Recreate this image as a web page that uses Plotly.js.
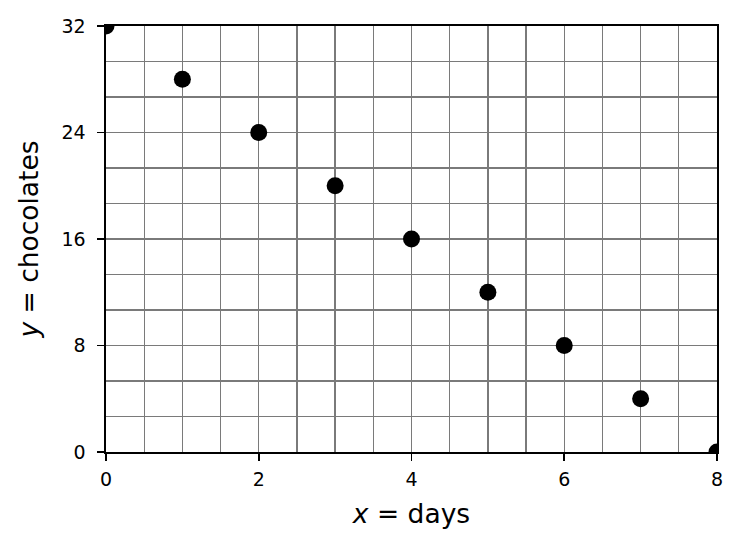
<!DOCTYPE html>
<html><head><meta charset="utf-8">
<script src="https://cdn.plot.ly/plotly-3.0.1.min.js"></script>
<style>html,body{margin:0;padding:0;background:#fff}</style>
</head><body>
<div id="chart" style="width:743px;height:550px"></div>
<script>
const days = [0, 1, 2, 3, 4, 5, 6, 7, 8];
const chocolates = [32, 28, 24, 20, 16, 12, 8, 4, 0];
const xTicks = [0, 2, 4, 6, 8];
const yTicks = [0, 8, 16, 24, 32];

const trace = {
  x: days, y: chocolates, type: 'scatter', mode: 'markers',
  marker: {color: '#000', size: 17},
  cliponaxis: true, hoverinfo: 'skip'
};
const gridColor = '#7a7a7a';
const gw = 1.3;
const layout = {
  width: 743, height: 550,
  margin: {l: 106, r: 26, t: 26, b: 98},
  paper_bgcolor: '#fff', plot_bgcolor: '#fff',
  font: {family: 'DejaVu Sans, sans-serif', color: '#000', size: 19},
  showlegend: false,
  xaxis: {
    range: [0, 8], tickvals: xTicks, ticktext: xTicks.map(String),
    ticks: 'outside', ticklen: 7, tickwidth: 1.6, tickcolor: '#000',
    showgrid: true, gridcolor: gridColor, gridwidth: gw,
    minor: {dtick: 0.5, tick0: 0, showgrid: true, gridcolor: gridColor, gridwidth: gw, ticks: ''},
    showline: true, linecolor: '#000', linewidth: 1.6, mirror: true,
    zeroline: false, fixedrange: true, ticklabelstandoff: 3,
    tickfont: {size: 19},
    title: {text: '<i>x</i> = days', font: {size: 26.5}, standoff: 15}
  },
  yaxis: {
    range: [0, 32], tickvals: yTicks, ticktext: yTicks.map(String),
    ticks: 'outside', ticklen: 7, tickwidth: 1.6, tickcolor: '#000',
    showgrid: true, gridcolor: gridColor, gridwidth: gw,
    minor: {dtick: 8/3, tick0: 0, showgrid: true, gridcolor: gridColor, gridwidth: gw, ticks: ''},
    showline: true, linecolor: '#000', linewidth: 1.6, mirror: true,
    zeroline: false, fixedrange: true, ticklabelstandoff: 8,
    tickfont: {size: 19},
    title: {text: '<i>y</i> = chocolates', font: {size: 26.5}, standoff: 15}
  }
};
Plotly.newPlot('chart', [trace], layout, {displayModeBar: false, staticPlot: true});
</script>
</body></html>
